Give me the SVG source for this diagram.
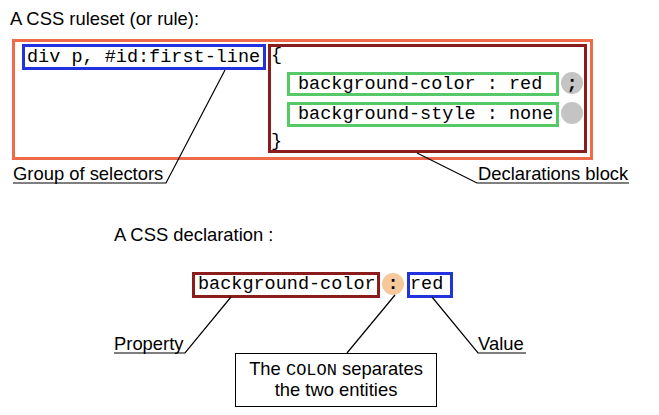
<svg xmlns="http://www.w3.org/2000/svg" width="659" height="415" viewBox="0 0 659 415">
<style>
.sans{font-family:"Liberation Sans",Arial,sans-serif;font-size:18.4px;fill:#000}
.mono{font-family:"Liberation Mono","Courier New",monospace;font-size:18.5px;fill:#000}
.ln{stroke:#000;stroke-width:1.2;fill:none}
.box{fill:#fff;stroke-width:3}
</style>
<rect width="659" height="415" fill="#fff"/>
<text class="sans" x="10" y="25">A CSS ruleset (or rule):</text>
<g id="ruleset"><rect class="box" x="13.5" y="40.5" width="578" height="118" stroke="#ee6a48"/></g>
<g id="selectors">
<rect class="box" x="23.5" y="45.5" width="241" height="23" stroke="#2233dd"/>
<text class="mono" x="27" y="62">div p, #id:first-line</text>
</g>
<g id="declblock">
<rect class="box" x="269.5" y="45.5" width="316" height="106" stroke="#8a1c1c"/>
<text class="mono" x="271" y="60">{</text>
<text class="mono" x="271" y="146">}</text>
</g>
<g id="decl1">
<rect class="box" x="288.5" y="73.5" width="269" height="21" stroke="#55c868"/>
<text class="mono" x="298" y="89">background-color : red</text>
</g>
<g id="decl2">
<rect class="box" x="288.5" y="103.5" width="269" height="22" stroke="#55c868"/>
<text class="mono" x="298" y="119">background-style : none</text>
</g>
<g id="semi1"><circle cx="572" cy="83" r="11" fill="#c4c4c4"/><text class="mono" x="572" y="89" text-anchor="middle" font-weight="bold">;</text></g>
<g id="semi2"><circle cx="572" cy="113" r="11" fill="#c4c4c4"/></g>
<g id="groupLabel"><text class="sans" x="13" y="180">Group of selectors</text></g>
<g id="declLabel"><text class="sans" x="478" y="180">Declarations block</text></g>
<text class="sans" x="114" y="241">A CSS declaration :</text>
<g id="property">
<rect class="box" x="193.5" y="273.5" width="185" height="23" stroke="#8a1c1c"/>
<text class="mono" x="198" y="289">background-color</text>
</g>
<g id="colon"><circle cx="393" cy="284" r="11" fill="#f5c99c"/><text class="mono" x="393" y="289" text-anchor="middle" font-weight="bold">:</text></g>
<g id="value">
<rect class="box" x="408.5" y="273.5" width="43" height="23" stroke="#2233dd"/>
<text class="mono" x="410" y="289">red</text>
</g>
<g id="propLabel"><text class="sans" x="114" y="350">Property</text></g>
<g id="valueLabel"><text class="sans" x="478" y="350">Value</text></g>
<g id="colonNote">
<rect x="235.5" y="353.5" width="201" height="53" fill="#fff" stroke="#000" stroke-width="1"/>
<text class="sans" x="336" y="375" text-anchor="middle">The <tspan font-family="Liberation Mono,monospace" font-size="17">COLON</tspan> separates</text>
<text class="sans" x="336" y="396" text-anchor="middle">the two entities</text>
</g>
<g id="connectors">
<polyline class="ln" points="13,183 166,183 225,70"/>
<polyline class="ln" points="417,153 477,183 629,183"/>
<polyline class="ln" points="114,353 185,353 231,297"/>
<polyline class="ln" points="347,353 395,295"/>
<polyline class="ln" points="432,297 478,353 526,353"/>
</g>
</svg>
